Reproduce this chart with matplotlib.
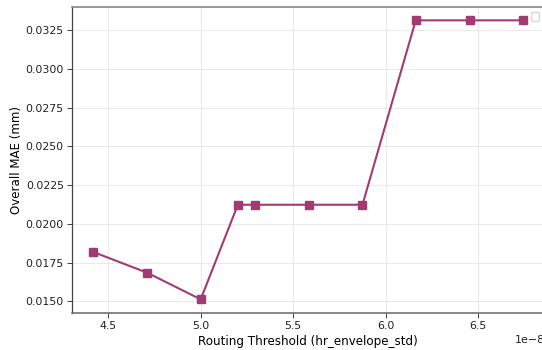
import matplotlib
matplotlib.use("Agg")
import matplotlib.pyplot as plt

# routing threshold sweep (hr_envelope_std) vs overall MAE
thresholds = [4.418e-8, 4.712e-8, 5.000e-8, 5.201e-8, 5.293e-8,
              5.587e-8, 5.875e-8, 6.163e-8, 6.457e-8, 6.745e-8]
mae = [0.01819, 0.01684, 0.01513, 0.02123, 0.02123,
       0.02123, 0.02123, 0.03312, 0.03312, 0.03312]

fig = plt.figure(figsize=(5.42, 3.5), dpi=100)
ax = fig.add_axes([0.1328, 0.1057, 0.872, 0.8743])

ax.plot(thresholds, mae, color="#A23B72", marker="s", markersize=5.5,
        linewidth=1.5)

ax.set_xlim(4.304e-8, 6.86e-8)
ax.set_ylim(0.01425, 0.03398)
ax.set_xticks([4.5e-8, 5.0e-8, 5.5e-8, 6.0e-8, 6.5e-8])
ax.set_yticks([0.015, 0.0175, 0.02, 0.0225, 0.025, 0.0275, 0.03, 0.0325])
ax.yaxis.set_major_formatter(plt.FormatStrFormatter("%.4f"))

ax.set_xlabel("Routing Threshold (hr_envelope_std)", fontsize=8.6, labelpad=3)
ax.set_ylabel("Overall MAE (mm)", fontsize=8.6, labelpad=2)
ax.tick_params(labelsize=7.9, colors="#222222", length=3.3, width=0.6, pad=2.6)
ax.xaxis.get_offset_text().set_fontsize(7.9)

ax.grid(True, color="#e6e6e6", linewidth=0.6)
ax.set_axisbelow(True)

ax.spines["top"].set_color("#888888")
ax.spines["top"].set_linewidth(1.2)
ax.spines["left"].set_color("#444444")
ax.spines["left"].set_linewidth(0.9)
ax.spines["bottom"].set_color("#666666")
ax.spines["bottom"].set_linewidth(1.1)
ax.spines["right"].set_visible(False)

ax.legend(loc="upper right", fontsize=7.5)

fig.savefig("out.png", dpi=100)
